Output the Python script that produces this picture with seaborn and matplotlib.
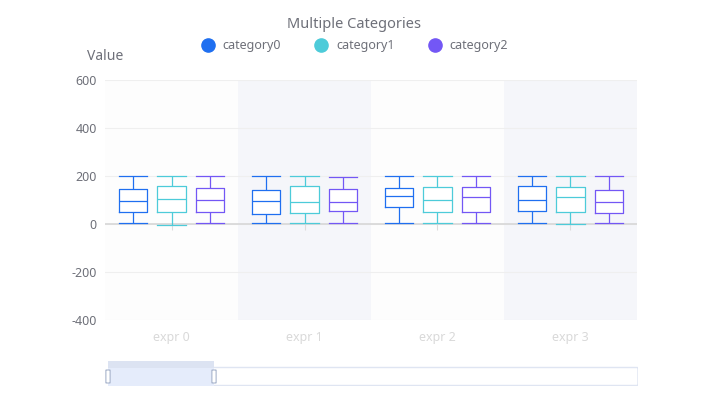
import matplotlib
matplotlib.use("Agg")
import matplotlib.pyplot as plt
import pandas as pd
import seaborn as sns
import numpy as np
from matplotlib.lines import Line2D
from matplotlib.patches import FancyBboxPatch, Rectangle

# groups on the x axis and the three series
groups = ["expr 0", "expr 1", "expr 2", "expr 3"]
series_names = ["category0", "category1", "category2"]
colors = ["#1f6ff0", "#4dcbd9", "#7357f5"]

# five-number summaries per group: [low, q1, median, q3, high]
category0 = [[3, 49, 96, 147, 199], [3, 40, 96, 142, 200], [3, 70, 115, 149, 200], [3, 54, 99, 158, 200]]
category1 = [[-3, 51, 104, 160, 200], [3, 46, 93, 160, 200], [4, 50, 101, 153, 200], [1, 51, 114, 156, 200]]
category2 = [[3, 51, 100, 151, 200], [3, 56, 90, 146, 194], [3, 49, 111, 154, 200], [3, 44, 90, 140, 200]]

y_ticks = [-400, -200, 0, 200, 400, 600]

rows = []
for name, stats in zip(series_names, [category0, category1, category2]):
    for g, five in zip(groups, stats):
        for v in five:
            rows.append({"group": g, "series": name, "value": v})
df = pd.DataFrame(rows)

plt.rcParams["font.family"] = ["Noto Sans", "DejaVu Sans"]
plt.rcParams["axes.unicode_minus"] = False
fig = plt.figure(figsize=(7.08, 4.01), dpi=100)
ax = fig.add_axes([105 / 708, 1 - 320 / 401, 532 / 708, 240 / 401])

# alternating category bands
band_colors = ["#fdfdfd", "#f5f6fa"]
for i in range(len(groups)):
    ax.axvspan(i - 0.5, i + 0.5, color=band_colors[i % 2], zorder=0, lw=0)

common = dict(data=df, x="group", y="value", hue="series", order=groups,
              hue_order=series_names, whis=(0, 100), width=0.87, gap=0.27,
              legend=False, ax=ax)
# white box interiors
sns.boxplot(palette=["white"] * 3, fill=True, linewidth=0, **common)
# coloured outlines
sns.boxplot(palette=colors, fill=False, linewidth=0.9, **common)

# make caps as wide as the boxes
horiz = [ln for ln in ax.lines if len(ln.get_xdata()) == 2
         and np.ptp(ln.get_ydata()) == 0 and np.ptp(ln.get_xdata()) > 0]
if horiz:
    full = max(np.ptp(ln.get_xdata()) for ln in horiz)
    for ln in horiz:
        c = np.mean(ln.get_xdata())
        ln.set_xdata([c - full / 2, c + full / 2])

ax.set_xlim(-0.5, len(groups) - 0.5)
ax.set_ylim(y_ticks[0], y_ticks[-1])
ax.set_yticks(y_ticks)
ax.yaxis.grid(True, color="#efefef", lw=0.8)
ax.set_axisbelow(True)
ax.axhline(0, color="#d9d9d9", lw=1.3, zorder=1.5)
for s in ax.spines.values():
    s.set_visible(False)
ax.set_xlabel("")
ax.set_ylabel("")
ax.tick_params(axis="y", length=0, pad=6, labelcolor="#6e7079", labelsize=9)
ax.tick_params(axis="x", length=0, pad=8, labelcolor="#d9d9d9", labelsize=9)
for lab in ax.get_xticklabels():
    lab.set_fontweight("bold")

# small ticks under the zero line
zero_frac = (0 - y_ticks[0]) / (y_ticks[-1] - y_ticks[0])
sec = ax.secondary_xaxis(zero_frac)
sec.set_alignment("bottom")
sec.set_xticks(range(len(groups)))
sec.tick_params(axis="x", length=4, width=0.8, color="#dcdcdc",
                labelbottom=False, labeltop=False)
for s in sec.spines.values():
    s.set_visible(False)

# title, axis name, legend
fig.text(0.5, 1 - 25 / 401, "Multiple Categories", ha="center", va="center",
         fontsize=10.5, color="#6e7079")
fig.text(105 / 708, 1 - 57 / 401, "Value", ha="center", va="center",
         fontsize=10, color="#6e7079")
handles = [Line2D([], [], marker="o", ls="", markersize=9.5, color=c) for c in colors]
fig.legend(handles, series_names, loc="center", bbox_to_anchor=(0.5, 1 - 46 / 401),
           ncol=3, frameon=False, fontsize=9, labelcolor="#6e7079",
           handletextpad=0.6, columnspacing=2.6, handlelength=1.2)

# data zoom slider
sl = fig.add_axes([108 / 708, 1 - 386 / 401, 530 / 708, 26 / 401])
sl.set_xlim(0, 1)
sl.set_ylim(0, 26)
sl.axis("off")
zoom_start, zoom_end = 0.0, 0.2
sl.add_patch(FancyBboxPatch((0, 0.5), 1, 18, boxstyle="round,pad=0,rounding_size=0.006",
                            fc="white", ec="#dfe5f2", lw=1, mutation_aspect=18))
sl.add_patch(Rectangle((zoom_start, 0.5), zoom_end - zoom_start, 18, fc="#e5ecfb", ec="none"))
sl.add_patch(Rectangle((zoom_start, 18.5), zoom_end - zoom_start, 7, fc="#dce3f2", ec="none"))
for hx in (zoom_start, zoom_end):
    sl.add_patch(FancyBboxPatch((hx - 0.004, 3), 0.008, 13, boxstyle="round,pad=0,rounding_size=0.003",
                                fc="white", ec="#a8b4cc", lw=0.8, mutation_aspect=13,
                                clip_on=False))

fig.savefig("out.png", dpi=100)
